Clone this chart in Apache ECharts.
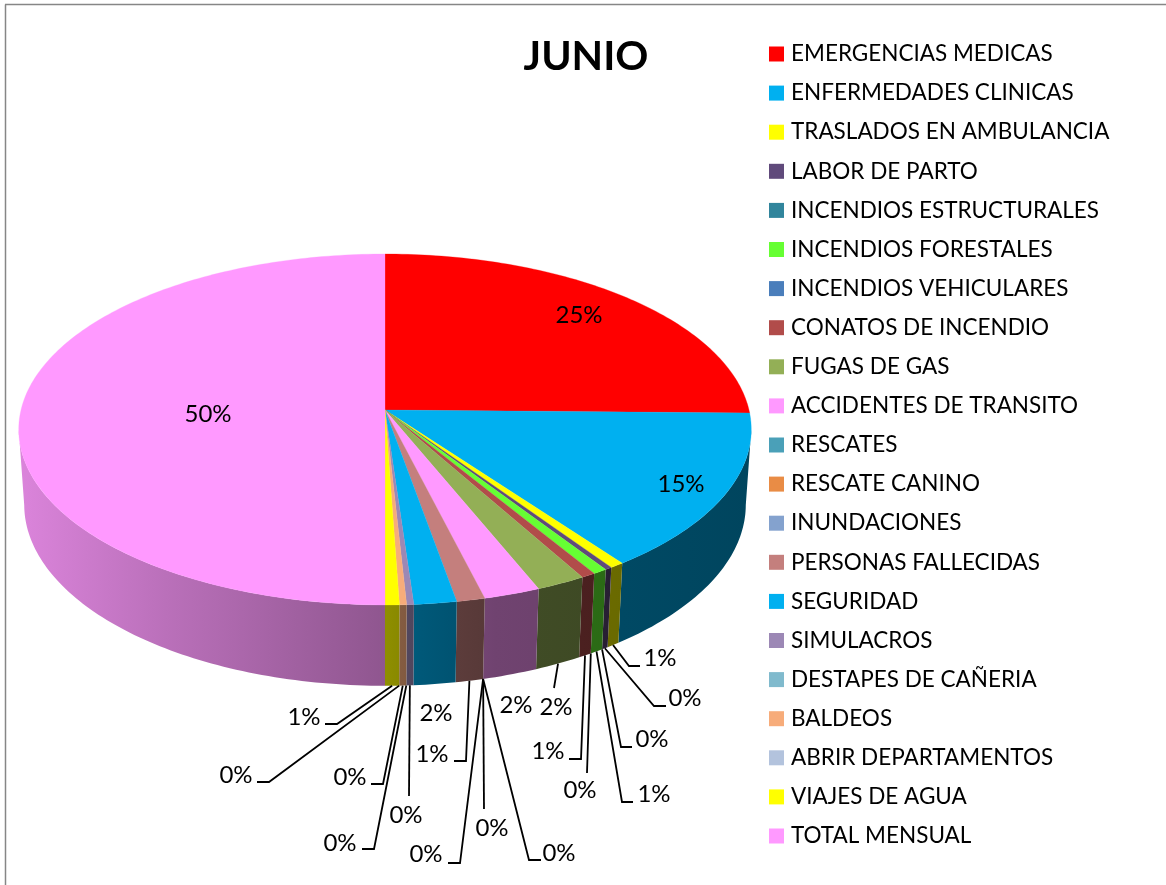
<!DOCTYPE html>
<html>
<head>
<meta charset="utf-8">
<title>JUNIO</title>
<script src="https://cdn.jsdelivr.net/npm/echarts@6/dist/echarts.min.js"></script>
<style>
  html, body { margin: 0; padding: 0; background: #fff; }
  #chart { width: 1166px; height: 885px; }
</style>
</head>
<body>
<div id="chart"></div>
<script>
var categories = [
  "EMERGENCIAS MEDICAS", "ENFERMEDADES CLINICAS", "TRASLADOS EN AMBULANCIA", "LABOR DE PARTO",
  "INCENDIOS ESTRUCTURALES", "INCENDIOS FORESTALES", "INCENDIOS VEHICULARES", "CONATOS DE INCENDIO",
  "FUGAS DE GAS", "ACCIDENTES DE TRANSITO", "RESCATES", "RESCATE CANINO", "INUNDACIONES",
  "PERSONAS FALLECIDAS", "SEGURIDAD", "SIMULACROS", "DESTAPES DE CAÑERIA", "BALDEOS",
  "ABRIR DEPARTAMENTOS", "VIAJES DE AGUA", "TOTAL MENSUAL"
];
var values = [90, 52, 2, 1, 0, 2, 0, 2, 7, 8, 0, 0, 0, 4, 6, 1, 0, 1, 0, 2, 178];
var colors = [
  "#FF0000", "#00B0F0", "#FFFF00", "#604A7B", "#31859C", "#66FF33", "#4A7EBB", "#B14C4A",
  "#93AF56", "#FF99FF", "#4AA0B8", "#E98C45", "#84A2CE", "#C47F7D", "#00B0F0", "#9C88B5",
  "#80BACD", "#F7AC7A", "#B3C3DD", "#FFFF00", "#FF99FF"
];

// label x, label y, then the leader bends after the start on the rim (null = no leader)
var labelLayout = [
  [579, 315, null],
  [681, 484, null],
  [660, 658, [[629, 666], [640, 666]]],
  [685, 698, [[654, 706], [666, 706]]],
  [652, 739, [[621, 747], [632, 747]]],
  [654, 794, [[622, 802], [633, 802]]],
  [580, 790, [[587, 773]]],
  [548, 751, [[581, 759], [569, 759]]],
  [556, 707, [[554, 688]]],
  [516, 705, null],
  [559, 853, [[529, 860], [541, 860]]],
  [492, 828, [[484, 809]]],
  [426, 854, [[460, 863], [448, 863]]],
  [432, 754, [[466, 761], [454, 761]]],
  [436, 713, null],
  [406, 815, [[409, 796]]],
  [340, 843, [[374, 849], [362, 849]]],
  [350, 777, [[383, 784], [371, 784]]],
  [236, 775, [[269, 782], [257, 782]]],
  [304, 717, [[337, 724], [325, 724]]],
  [208, 414, null]
];

var total = values.reduce(function (a, b) { return a + b; }, 0);
var cum = [0];
values.forEach(function (v, i) { cum.push(cum[i] + v / total); });

// disc projection, Excel's 3D pie has some perspective so the hub is not the ellipse centre
var cx = 385, cy = 410, rx = 364, ry = 173.3, persp = 0.111;
var drop = 76, shrink = 0.015;
// walls are only visible between the two points where the rim is widest
var frontFrom = Math.acos(-persp) / (Math.PI * 2), frontTo = 1 - frontFrom;

function project(frac, low) {
  var a = frac * Math.PI * 2;
  var X = Math.sin(a), Y = Math.cos(a);
  var w = 1 + persp * Y + (low ? shrink : 0);
  return [cx + rx * X / w, cy + (-ry * Y + (low ? drop : 0)) / w];
}

function rim(from, to, low) {
  var n = Math.max(2, Math.ceil((to - from) * 360));
  var pts = [];
  for (var i = 0; i <= n; i++) pts.push(project(from + (to - from) * i / n, low));
  return pts;
}

// side wall gets darker from left to right
var wallStops = [[0, 0.86], [0.2, 0.73], [0.5, 0.56], [0.55, 0.5], [0.65, 0.44], [1, 0.39]];
function wallFill(hex) {
  var c = echarts.color.parse(hex);
  return new echarts.graphic.LinearGradient(cx - 366, 0, cx + 366, 0, wallStops.map(function (s) {
    return {
      offset: s[0],
      color: "rgb(" + Math.round(c[0] * s[1]) + "," + Math.round(c[1] * s[1]) + "," + Math.round(c[2] * s[1]) + ")"
    };
  }), true);
}

function renderWall(params, api) {
  var i = params.dataIndex;
  var from = Math.max(cum[i], frontFrom), to = Math.min(cum[i + 1], frontTo);
  if (!api.value(0) || to <= from) return null;
  var top = rim(from, to, false);
  var bottom = rim(from, to, true).reverse();
  return {
    type: "polygon",
    shape: { points: top.concat(bottom) },
    style: { fill: wallFill(colors[i]), stroke: null }
  };
}

function renderTop(params, api) {
  var i = params.dataIndex;
  if (!api.value(0)) return null;
  return {
    type: "polygon",
    shape: { points: [[cx, cy]].concat(rim(cum[i], cum[i + 1], false)) },
    style: { fill: colors[i], stroke: colors[i], lineWidth: 0.3 }
  };
}

function renderLabel(params, api) {
  var i = params.dataIndex;
  var layout = labelLayout[i];
  var children = [{
    type: "text",
    x: layout[0],
    y: layout[1],
    style: {
      text: Math.round(api.value(0) / total * 100) + "%",
      fill: "#000",
      font: "24px Lato",
      align: "center",
      verticalAlign: "middle"
    }
  }];
  if (layout[2]) {
    var start = project((cum[i] + cum[i + 1]) / 2, true);
    children.push({
      type: "polyline",
      shape: { points: [start].concat(layout[2]) },
      style: { fill: null, stroke: "#000", lineWidth: 1.8 }
    });
  }
  return { type: "group", children: children };
}

var sliceData = values.map(function (v, i) { return { name: categories[i], value: v }; });

var chart = echarts.init(document.getElementById("chart"));
chart.setOption({
  animation: false,
  color: colors,
  title: {
    text: "JUNIO",
    left: 586,
    top: 36,
    padding: 0,
    textAlign: "center",
    textStyle: { fontFamily: "Lato", fontSize: 41, fontWeight: "bold", color: "#000" }
  },
  legend: {
    orient: "vertical",
    left: 769,
    top: 42,
    padding: 0,
    height: 840,
    itemWidth: 15,
    itemHeight: 15,
    itemGap: 15.1,
    icon: "rect",
    selectedMode: false,
    textStyle: { fontFamily: "Lato", fontSize: 22.5, lineHeight: 24, color: "#000", padding: [0, 0, 0, 2] },
    data: categories
  },
  graphic: [
    { type: "line", shape: { x1: 5, y1: 4.5, x2: 1166, y2: 4.5 }, style: { stroke: "#868686", lineWidth: 1.5 } },
    { type: "line", shape: { x1: 5.5, y1: 4.5, x2: 5.5, y2: 885 }, style: { stroke: "#868686", lineWidth: 1.5 } }
  ],
  series: [
    // invisible, only feeds the legend
    { type: "pie", radius: [0, 0], center: [cx, cy], silent: true, label: { show: false }, labelLine: { show: false }, data: sliceData },
    { type: "custom", coordinateSystem: "none", silent: true, z: 2, renderItem: renderWall, data: values },
    { type: "custom", coordinateSystem: "none", silent: true, z: 3, renderItem: renderTop, data: values },
    { type: "custom", coordinateSystem: "none", silent: true, z: 4, renderItem: renderLabel, data: values }
  ]
});
</script>
</body>
</html>
